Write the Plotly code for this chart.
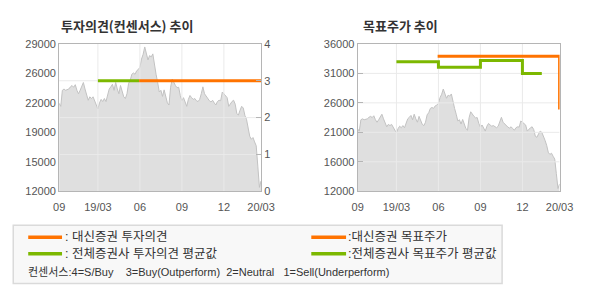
import plotly.graph_objects as go

# ---------------- data ----------------
x_labels = ["09", "19/03", "06", "09", "12", "20/03"]
x_label_pos = [0, 24, 50, 76, 102, 125]   # trading-day index of each label

price = [
    22150, 21800, 23650, 23800, 23650, 23700, 23800, 24050, 24200, 24000,
    24300, 23650, 23250, 23650, 24200, 24550, 23800, 23250, 22500, 22900,
    22700, 22900, 22450, 22050, 21500, 22200, 22600, 22350, 22700, 22350,
    23050, 23800, 24050, 24350, 23650, 24550, 23800, 23250, 24200, 23350,
    22900, 22700, 23250, 24450, 24800, 25500, 25650, 25500, 25900, 26050,
    26300, 27250, 27800, 28650, 27800, 27150, 27650, 27500, 27850, 26400,
    25500, 24550, 23450, 23650, 22950, 23700, 22950, 22200, 21950, 24000,
    24950, 24450, 24200, 23950, 24000, 23050, 22450, 22800, 22350, 21800,
    22600, 23050, 22800, 22600, 22700, 22450, 22350, 22600, 23250, 24050,
    23250, 22950, 22700, 22450, 22300, 22500, 22200, 21950, 22350, 22500,
    22450, 23450, 23250, 23050, 22800, 21800, 22150, 22350, 22500, 22050,
    20950, 20800, 21350, 21800, 21600, 20750, 20300, 19500, 18350, 18000,
    18200, 17700, 17250, 14900, 12450, 13200,
]
day_index = list(range(len(price)))

# investment opinion (consensus scale 0-4)
opinion_all_x = [24, 49.5]
opinion_all_y = [3, 3]
opinion_ds_x = [49.5, 125]
opinion_ds_y = [3, 3]

# target price
target_all_x = [24, 50, 76, 102, 114]
target_all_y = [33100, 32200, 33300, 31200, 31200]
target_ds_x = [49.5, 125]
target_ds_y = [34000, 25300]

left_price_ticks = [12000, 15400, 18800, 22200, 25600, 29000]
left_price_text = ["12000", "15000", "19000", "22000", "26000", "29000"]
opinion_ticks = [0, 1, 2, 3, 4]
right_price_ticks = [12000, 16800, 21600, 26400, 31200, 36000]
right_price_text = ["12000", "16000", "21000", "26000", "31000", "36000"]

# ---------------- styles ----------------
W, H = 590, 300
ORANGE = "#ff7300"
GREEN = "#7cb800"
GRID = "#eaeaea"
AXIS = "#b5b5b5"
TICKC = "#555555"
FONT = "Liberation Sans, Noto Sans CJK KR, sans-serif"
KFONT = "Noto Sans CJK KR, sans-serif"

def px(x):
    return x / W

def py(y):
    return 1 - y / H

fig = go.Figure()

def grid_traces(xa, ya_v, ya_h, xticks, yrange, hticks, xrange):
    gx, gy = [], []
    for t in xticks:
        gx += [t, t, None]
        gy += [yrange[0], yrange[1], None]
    fig.add_trace(go.Scatter(x=gx, y=gy, mode="lines", xaxis=xa, yaxis=ya_v,
                             line=dict(color=GRID, width=1), hoverinfo="skip",
                             showlegend=False))
    hx, hy = [], []
    for t in hticks:
        hx += [xrange[0], xrange[1], None]
        hy += [t, t, None]
    fig.add_trace(go.Scatter(x=hx, y=hy, mode="lines", xaxis=xa, yaxis=ya_h,
                             line=dict(color=GRID, width=1), hoverinfo="skip",
                             showlegend=False))

XR = [0, 125]

# ---- left chart ----
fig.add_trace(go.Scatter(x=day_index, y=price, mode="lines", fill="tozeroy",
                         fillcolor="#dfdfdf", line=dict(color="#c2c2c2", width=1),
                         xaxis="x", yaxis="y", showlegend=False, hoverinfo="skip"))
grid_traces("x", "y", "y2", x_label_pos[1:-1], [left_price_ticks[0], left_price_ticks[-1]],
            opinion_ticks[1:-1], XR)
fig.add_trace(go.Scatter(x=opinion_all_x, y=opinion_all_y, mode="lines", line_shape="hv",
                         line=dict(color=GREEN, width=3), xaxis="x", yaxis="y2",
                         showlegend=False))
fig.add_trace(go.Scatter(x=opinion_ds_x, y=opinion_ds_y, mode="lines", line_shape="hv",
                         line=dict(color=ORANGE, width=3), xaxis="x", yaxis="y2",
                         showlegend=False))

# ---- right chart ----
fig.add_trace(go.Scatter(x=day_index, y=price, mode="lines", fill="tozeroy",
                         fillcolor="#dfdfdf", line=dict(color="#c2c2c2", width=1),
                         xaxis="x2", yaxis="y3", showlegend=False, hoverinfo="skip"))
grid_traces("x2", "y3", "y3", x_label_pos[1:-1], [right_price_ticks[0], right_price_ticks[-1]],
            right_price_ticks[1:-1], XR)
fig.add_trace(go.Scatter(x=target_all_x, y=target_all_y, mode="lines", line_shape="hv",
                         line=dict(color=GREEN, width=3), xaxis="x2", yaxis="y3",
                         showlegend=False))
fig.add_trace(go.Scatter(x=target_ds_x, y=target_ds_y, mode="lines", line_shape="hv",
                         line=dict(color=ORANGE, width=3), xaxis="x2", yaxis="y3",
                         showlegend=False))

ydom = [py(193), py(39.5)]
common_x = dict(range=XR, tickvals=x_label_pos, ticktext=x_labels, showgrid=False,
                zeroline=False, showline=True, linecolor=AXIS, linewidth=1, mirror=True,
                ticks="", ticklabelstandoff=6,
                tickfont=dict(family=FONT, size=11, color=TICKC), fixedrange=True)

fig.update_layout(
    width=W, height=H, margin=dict(l=0, r=0, t=0, b=0, pad=0),
    paper_bgcolor="white", plot_bgcolor="white", showlegend=False,
    xaxis=dict(domain=[px(55), px(264)], anchor="y", **common_x),
    yaxis=dict(domain=ydom, anchor="x", range=[left_price_ticks[0], left_price_ticks[-1]],
               tickvals=left_price_ticks, ticktext=left_price_text, showgrid=False,
               zeroline=False, showline=True, linecolor=AXIS, mirror=True, ticks="",
               tickfont=dict(family=FONT, size=11, color=TICKC)),
    yaxis2=dict(overlaying="y", side="right", anchor="x", range=[0, 4],
                tickvals=opinion_ticks, showgrid=False, zeroline=False, showline=True,
                linecolor=AXIS, ticks="inside", ticklen=5, tickcolor=AXIS,
                tickfont=dict(family=FONT, size=11, color=TICKC)),
    xaxis2=dict(domain=[px(364), px(573)], anchor="y3", **common_x),
    yaxis3=dict(domain=ydom, anchor="x2", range=[right_price_ticks[0], right_price_ticks[-1]],
                tickvals=right_price_ticks, ticktext=right_price_text, showgrid=False,
                zeroline=False, showline=True, linecolor=AXIS, mirror=True,
                ticks="inside", ticklen=5, tickcolor=AXIS,
                tickfont=dict(family=FONT, size=11, color=TICKC)),
)

# ---- titles ----
for txt, x in [("투자의견(컨센서스) 추이", 55), ("목표주가 추이", 367)]:
    fig.add_annotation(text="<b>" + txt + "</b>", x=px(x), y=py(20), xref="paper", yref="paper",
                       xanchor="left", yanchor="middle", showarrow=False,
                       font=dict(family=KFONT, size=13, color="#333333"))

# ---- legend box ----
fig.add_shape(type="rect", xref="paper", yref="paper", x0=px(7.5), x1=px(513.5),
              y0=py(289), y1=py(228.5), fillcolor="#f8f8f8",
              line=dict(color="#dadada", width=1.5), layer="below")

legend_items = [
    (23, 58, 241, ORANGE, 59, ": 대신증권 투자의견"),
    (23, 58, 258, GREEN, 59, ": 전체증권사 투자의견 평균값"),
    (316, 352, 241, ORANGE, 352, ":대신증권 목표주가"),
    (316, 352, 258, GREEN, 352, ":전체증권사 목표주가 평균값"),
]
for x0, x1, y, col, tx, txt in legend_items:
    fig.add_shape(type="line", xref="paper", yref="paper", x0=px(x0), x1=px(x1),
                  y0=py(y), y1=py(y), line=dict(color=col, width=3.5))
    fig.add_annotation(text=txt, x=px(tx), y=py(y), xref="paper", yref="paper",
                       xanchor="left", yanchor="middle", showarrow=False,
                       font=dict(family=FONT, size=12.5, color="#333333"))

fig.add_annotation(
    text="컨센서스:4=S/Buy&nbsp;&nbsp;&nbsp;&nbsp;3=Buy(Outperform)&nbsp;&nbsp;2=Neutral&nbsp;&nbsp;&nbsp;1=Sell(Underperform)",
    x=px(21), y=py(277), xref="paper", yref="paper", xanchor="left", yanchor="middle",
    showarrow=False, font=dict(family=FONT, size=11, color="#333333"))

fig.write_html("out.html")
